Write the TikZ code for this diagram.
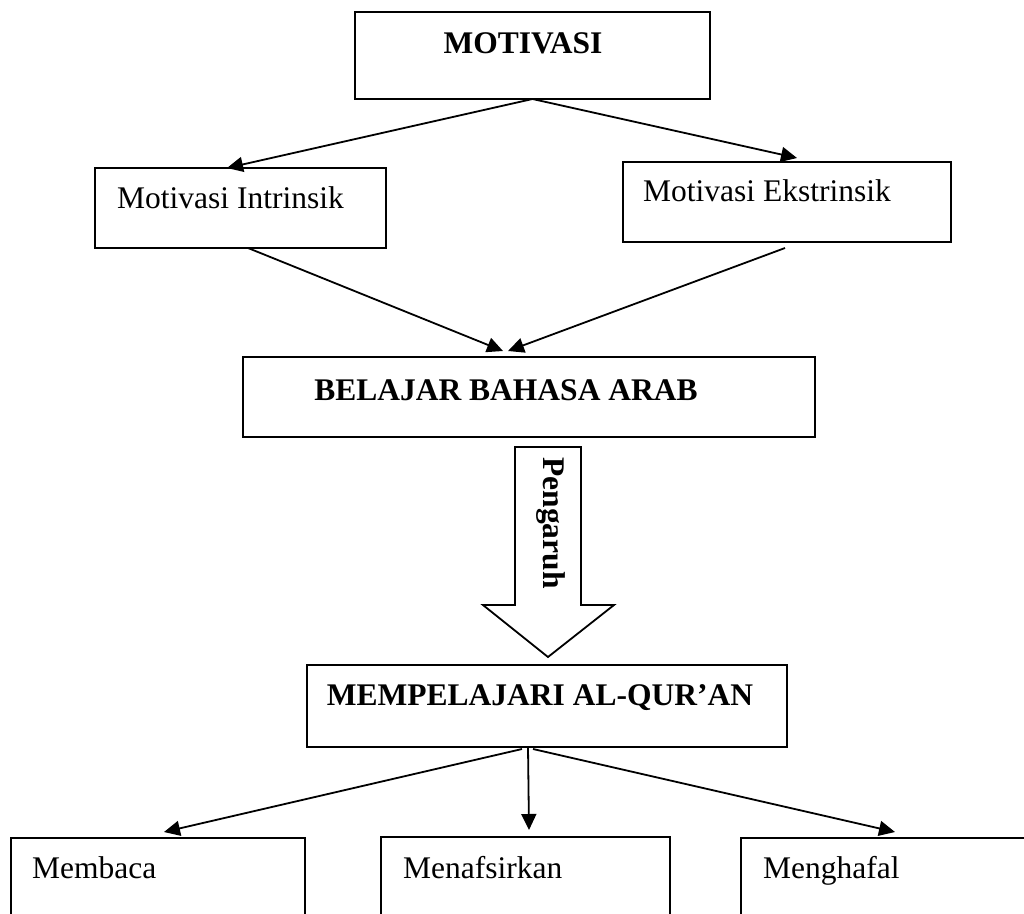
\documentclass[tikz,border=0pt]{standalone}
\usepackage{fontspec}
\setmainfont{Liberation Serif}
\usetikzlibrary{arrows.meta,calc}
\begin{document}
\begin{tikzpicture}[x=1pt,y=-1pt,
  box/.style={draw,line width=1.8pt,inner sep=0pt,outer sep=0pt,anchor=north west},
  lbl/.style={anchor=base west,inner sep=0pt,font=\fontsize{31.5}{36}\selectfont},
  blbl/.style={anchor=base,inner sep=0pt,font=\fontsize{31.5}{36}\selectfont\bfseries},
  conn/.style={line width=1.8pt,-{Triangle[length=16pt,width=15pt]}},
  plainline/.style={line width=1.8pt,line join=miter}]
\useasboundingbox (0,0) rectangle (1024,913);
% boxes
\node[box,minimum width=355pt,minimum height=87pt] (mot) at (355,12) {};
\node[blbl] (motT) at (523,53) {MOTIVASI};
\node[box,minimum width=291pt,minimum height=80pt] (intr) at (95,168) {};
\node[lbl] (intrT) at (117,208) {Motivasi Intrinsik};
\node[box,minimum width=328pt,minimum height=80pt] (ekst) at (623,162) {};
\node[lbl] (ekstT) at (643,201) {Motivasi Ekstrinsik};
\node[box,minimum width=572pt,minimum height=80pt] (bel) at (243,357) {};
\node[blbl] (belT) at (506,400) {BELAJAR BAHASA ARAB};
\node[box,minimum width=480pt,minimum height=82pt] (mem) at (307,665) {};
\node[blbl] (memT) at (540,705) {MEMPELAJARI AL-QUR’AN};
\node[box,minimum width=294pt,minimum height=110pt] (memb) at (11,838) {};
\node[lbl] (membT) at (32,878) {Membaca};
\node[box,minimum width=289pt,minimum height=110pt] (menaf) at (381,837) {};
\node[lbl] (menafT) at (403,878) {Menafsirkan};
\node[box,minimum width=289pt,minimum height=110pt] (mengh) at (741,838) {};
\node[lbl] (menghT) at (763,878) {Menghafal};
% block arrow
\draw[plainline] (515,447) -- (581,447) -- (581,605) -- (614,605) -- (548,657) -- (483,605) -- (515,605) -- cycle;
\node[rotate=-90,inner sep=0pt,font=\fontsize{31.5}{36}\selectfont\bfseries] (peng) at (551,523) {Pengaruh};
% connectors
\draw[conn] (mot.south) -- ([xshift=-13.5pt]intr.north);
\draw[conn] (mot.south) -- ([xshift=10pt,yshift=4pt]ekst.north);
\draw[conn] ([xshift=7.5pt]intr.south) -- ([xshift=-26pt,yshift=6pt]bel.north);
\draw[conn] ([xshift=-2pt,yshift=-6pt]ekst.south) -- ([xshift=-21pt,yshift=6pt]bel.north);
\draw[conn] ([xshift=-25pt,yshift=-2pt]mem.south) -- ([xshift=6pt,yshift=6pt]memb.north);
\draw[conn] ([xshift=-19pt]mem.south) -- ([xshift=3.5pt,yshift=7pt]menaf.north);
\draw[conn] ([xshift=-14pt,yshift=-2pt]mem.south) -- ([xshift=9.5pt,yshift=6pt]mengh.north);
\end{tikzpicture}
\end{document}
